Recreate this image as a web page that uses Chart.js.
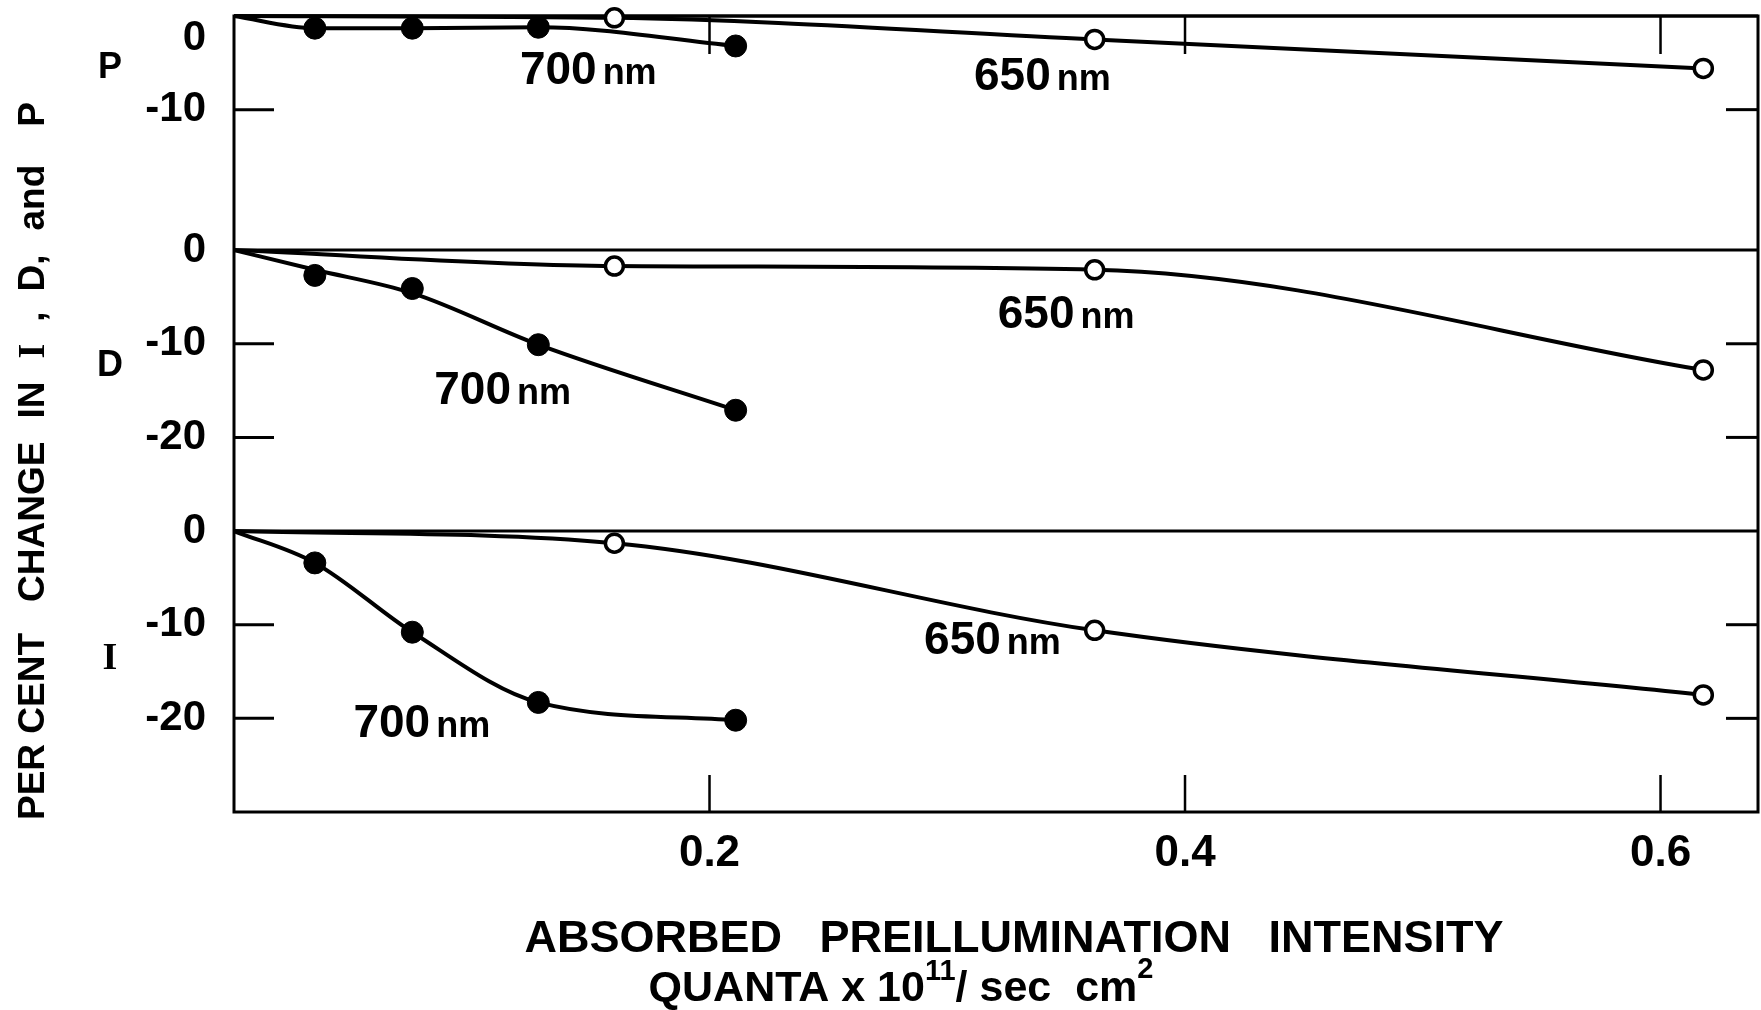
<!DOCTYPE html>
<html>
<head>
<meta charset="utf-8">
<script src="https://cdn.jsdelivr.net/npm/chart.js@4.4.1/dist/chart.umd.min.js"></script>
<style>
  html, body { margin: 0; padding: 0; background: #fff; }
  #wrap { width: 1761px; height: 1010px; }
</style>
</head>
<body>
<div id="wrap"><canvas id="chart"></canvas></div>
<script>
// absorbed preillumination intensity (quanta x 10^11 / sec cm^2)
const x700 = [0, 0.034, 0.075, 0.128, 0.211];
const x650 = [0, 0.160, 0.362, 0.618];

// per cent change for each panel (first point is the curve origin, no marker)
const p700 = [0, -1.3, -1.3, -1.2, -3.2];
const p650 = [0, -0.2, -2.5, -5.6];
const d700 = [0, -2.7, -4.1, -10.1, -17.1];
const d650 = [0, -1.7, -2.1, -12.8];
const i700 = [0, -3.4, -10.8, -18.3, -20.2];
const i650 = [0, -1.3, -10.6, -17.5];

// the hand drawn D 700 nm curve does not go through every marker
const d700Curve = [0, -2.1, -4.6, -10.1, -17.1];

const xTicks = [0.2, 0.4, 0.6];
const pTicks = [0, -10];
const dTicks = [0, -10, -20];
const iTicks = [0, -10, -20];

const FONT = '"Liberation Sans", Arial, sans-serif';
const SERIF = '"Liberation Serif", serif';
const B = 'bold ';

// panels top to bottom
const panels = [
  { id: 'yP', letter: 'P', min: -25, ticks: pTicks, letterY: -5.6 },
  { id: 'yD', letter: 'D', min: -30, ticks: dTicks, letterY: -12.4 },
  { id: 'yI', letter: 'I', min: -30, ticks: iTicks, letterY: -13.7 }
];

// "700 nm" / "650 nm" labels next to curves
const curveLabels = [
  { axis: 'yP', x: 0.149, y: -5.6, num: '700' },
  { axis: 'yP', x: 0.340, y: -6.2, num: '650' },
  { axis: 'yD', x: 0.350, y: -6.6, num: '650' },
  { axis: 'yD', x: 0.113, y: -14.7, num: '700' },
  { axis: 'yI', x: 0.319, y: -11.4, num: '650' },
  { axis: 'yI', x: 0.079, y: -20.3, num: '700' }
];

// y title pieces, read bottom to top, with the gap before each piece
const yTitle = [
  { t: 'PER CENT', gap: 0 },
  { t: 'CHANGE', gap: 31 },
  { t: 'IN', gap: 23 },
  { t: 'I', gap: 23, serif: true },
  { t: ',', gap: 22 },
  { t: 'D,', gap: 20 },
  { t: 'and', gap: 24 },
  { t: 'P', gap: 38 }
];

function pts(xs, ys) {
  return xs.map((x, i) => ({ x: x, y: ys[i] }));
}

function curve(label, xs, ys, axis) {
  return {
    label: label,
    data: pts(xs, ys),
    xAxisID: 'x',
    yAxisID: axis,
    order: 2,
    borderColor: '#000',
    borderWidth: 4,
    cubicInterpolationMode: 'monotone',
    pointRadius: 0,
    clip: false
  };
}

function markers(label, xs, ys, axis, filled) {
  return {
    label: label,
    data: pts(xs, ys).slice(1),
    xAxisID: 'x',
    yAxisID: axis,
    order: 1,
    showLine: false,
    pointRadius: filled ? 11 : 9,
    pointBackgroundColor: filled ? '#000' : '#fff',
    pointBorderColor: '#000',
    pointBorderWidth: filled ? 1 : 3.5,
    clip: false
  };
}

function panelAxis(p) {
  return {
    type: 'linear',
    position: 'left',
    stack: 'panels',
    stackWeight: -p.min,
    min: p.min,
    max: 0,
    afterBuildTicks: s => { s.ticks = p.ticks.map(v => ({ value: v })); },
    ticks: { display: false },
    grid: { display: false, drawTicks: false, tickLength: 0 },
    border: { display: false }
  };
}

function line(ctx, x1, y1, x2, y2) {
  ctx.beginPath();
  ctx.moveTo(x1, y1);
  ctx.lineTo(x2, y2);
  ctx.stroke();
}

// frame, panel separators, inner tick marks and all the lettering
const decor = {
  id: 'decor',
  beforeDatasetsDraw(chart) {
    const { ctx, chartArea: a, scales } = chart;
    ctx.save();
    ctx.strokeStyle = '#000';
    ctx.lineWidth = 3;
    ctx.strokeRect(a.left, a.top, a.right - a.left, a.bottom - a.top);
    panels.forEach(p => {
      const s = scales[p.id];
      const y0 = s.getPixelForValue(0);
      line(ctx, a.left, y0, a.right, y0);
      p.ticks.filter(v => v !== 0).forEach(v => {
        const y = s.getPixelForValue(v);
        line(ctx, a.left, y, a.left + 40, y);
        line(ctx, a.right - 32, y, a.right, y);
      });
    });
    ctx.lineWidth = 2.5;
    xTicks.forEach(v => {
      const x = scales.x.getPixelForValue(v);
      line(ctx, x, a.bottom, x, a.bottom - 37);
      line(ctx, x, a.top, x, a.top + 38);
    });
    ctx.restore();
  },
  afterDraw(chart) {
    const { ctx, chartArea: a, scales } = chart;
    ctx.save();
    ctx.fillStyle = '#000';

    // y tick labels and panel letters
    ctx.textBaseline = 'middle';
    panels.forEach(p => {
      const s = scales[p.id];
      ctx.font = B + '42px ' + FONT;
      ctx.textAlign = 'right';
      p.ticks.forEach(v => {
        const y = Math.max(s.getPixelForValue(v), a.top + 22);
        ctx.fillText(String(v), a.left - 28, y);
      });
      ctx.textAlign = 'center';
      ctx.font = (p.letter === 'I' ? B + '38px ' + SERIF : B + '36px ' + FONT);
      ctx.fillText(p.letter, a.left - 124, s.getPixelForValue(p.letterY));
    });

    // curve labels
    curveLabels.forEach(l => {
      const cx = scales.x.getPixelForValue(l.x);
      const cy = scales[l.axis].getPixelForValue(l.y);
      ctx.font = B + '46px ' + FONT;
      const wNum = ctx.measureText(l.num).width;
      ctx.font = B + '36px ' + FONT;
      const wNm = ctx.measureText('nm').width;
      const gap = 6;
      let x = cx - (wNum + gap + wNm) / 2;
      ctx.textAlign = 'left';
      ctx.textBaseline = 'alphabetic';
      ctx.font = B + '46px ' + FONT;
      ctx.fillText(l.num, x, cy + 16);
      ctx.font = B + '36px ' + FONT;
      ctx.fillText('nm', x + wNum + gap, cy + 16);
    });

    // y axis title, rotated, laid out piece by piece from the bottom
    ctx.save();
    ctx.translate(34, 820);
    ctx.rotate(-Math.PI / 2);
    ctx.textAlign = 'left';
    ctx.textBaseline = 'middle';
    let pos = 0;
    yTitle.forEach(seg => {
      ctx.font = B + (seg.serif ? '38px ' + SERIF : '37px ' + FONT);
      pos += seg.gap;
      ctx.fillText(seg.t, pos, 0);
      pos += ctx.measureText(seg.t).width;
    });
    ctx.restore();

    // x axis title, two lines
    ctx.textBaseline = 'alphabetic';
    ctx.textAlign = 'center';
    ctx.font = B + '45px ' + FONT;
    ctx.fillText('ABSORBED   PREILLUMINATION   INTENSITY', a.left + 780, a.bottom + 140);

    const parts = [
      { t: 'QUANTA x 10', size: 43, rise: 0 },
      { t: '11', size: 29, rise: 21 },
      { t: '/ sec  cm', size: 43, rise: 0 },
      { t: '2', size: 29, rise: 23 }
    ];
    let total = 0;
    parts.forEach(p => {
      ctx.font = B + p.size + 'px ' + FONT;
      p.w = ctx.measureText(p.t).width;
      total += p.w;
    });
    let x = a.left + 667 - total / 2;
    ctx.textAlign = 'left';
    parts.forEach(p => {
      ctx.font = B + p.size + 'px ' + FONT;
      ctx.fillText(p.t, x, a.bottom + 189 - p.rise);
      x += p.w;
    });
    ctx.restore();
  }
};

new Chart(document.getElementById('chart'), {
  type: 'line',
  data: {
    datasets: [
      curve('P 700 nm', x700, p700, 'yP'),
      curve('P 650 nm', x650, p650, 'yP'),
      curve('D 700 nm', x700, d700Curve, 'yD'),
      curve('D 650 nm', x650, d650, 'yD'),
      curve('I 700 nm', x700, i700, 'yI'),
      curve('I 650 nm', x650, i650, 'yI'),
      markers('P 700 nm', x700, p700, 'yP', true),
      markers('P 650 nm', x650, p650, 'yP', false),
      markers('D 700 nm', x700, d700, 'yD', true),
      markers('D 650 nm', x650, d650, 'yD', false),
      markers('I 700 nm', x700, i700, 'yI', true),
      markers('I 650 nm', x650, i650, 'yI', false)
    ]
  },
  options: {
    responsive: true,
    maintainAspectRatio: false,
    animation: false,
    layout: { autoPadding: false, padding: { left: 234, right: 3, top: 16, bottom: 128 } },
    plugins: {
      legend: { display: false },
      tooltip: { enabled: false }
    },
    scales: {
      x: {
        type: 'linear',
        position: 'bottom',
        min: 0,
        max: 0.641,
        afterBuildTicks: s => { s.ticks = xTicks.map(v => ({ value: v })); },
        afterFit: s => { s.height = 70; },
        ticks: {
          color: '#000',
          font: { family: FONT, size: 44, weight: 'bold' },
          padding: 15
        },
        grid: { display: false, drawTicks: false },
        border: { display: false }
      },
      // last stacked axis is placed on top
      yI: panelAxis(panels[2]),
      yD: panelAxis(panels[1]),
      yP: panelAxis(panels[0])
    }
  },
  plugins: [decor]
});
</script>
</body>
</html>
